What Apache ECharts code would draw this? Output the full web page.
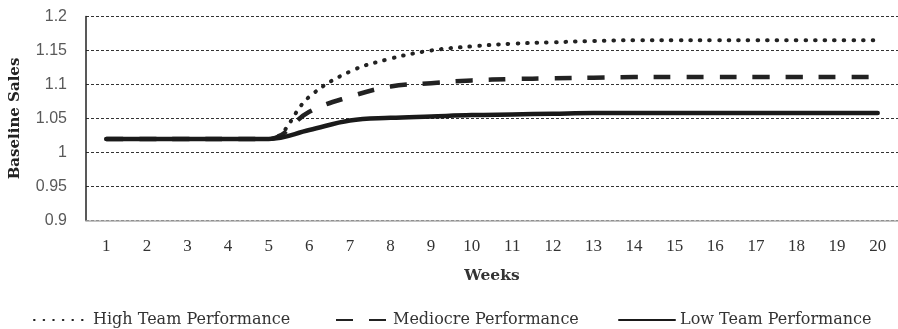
<!DOCTYPE html>
<html>
<head>
<meta charset="utf-8">
<script src="https://cdn.jsdelivr.net/npm/echarts@6/dist/echarts.min.js"></script>
<style>
html,body{margin:0;padding:0;background:#fff;}
#chart{width:898px;height:329px;}
</style>
</head>
<body>
<div id="chart"></div>
<script>
const weeks = ['1','2','3','4','5','6','7','8','9','10','11','12','13','14','15','16','17','18','19','20'];
const highTeam = [1.02,1.02,1.02,1.02,1.02,1.082,1.119,1.138,1.150,1.156,1.160,1.162,1.164,1.165,1.165,1.165,1.165,1.165,1.165,1.165];
const mediocre = [1.02,1.02,1.02,1.02,1.02,1.060,1.082,1.097,1.102,1.106,1.108,1.109,1.110,1.111,1.111,1.111,1.111,1.111,1.111,1.111];
const lowTeam = [1.02,1.02,1.02,1.02,1.02,1.033,1.047,1.051,1.053,1.055,1.056,1.057,1.058,1.058,1.058,1.058,1.058,1.058,1.058,1.058];
const seriesNames = ['High Team Performance','Mediocre Performance','Low Team Performance'];

const serif = '"DejaVu Serif", serif';
const tnr = '"Liberation Serif", serif';
const chart = echarts.init(document.getElementById('chart'), null, {renderer:'canvas'});

function legendFor(name, left, w){
  return {
    data:[name], left:left, top:307, itemWidth:w, itemHeight:14, itemGap:0,
    itemStyle:{opacity:0},
    textStyle:{fontFamily:serif, fontSize:16, color:'#333'},
    selectedMode:false
  };
}

chart.setOption({
  animation:false,
  grid:{left:82, right:0, top:16.5, bottom:108.5},
  legend:[
    legendFor(seriesNames[0], 28, 54),
    legendFor(seriesNames[1], 330, 52),
    legendFor(seriesNames[2], 613, 56)
  ],
  xAxis:{
    type:'category', data:weeks, boundaryGap:true,
    name:'Weeks', nameLocation:'middle', nameGap:47,
    nameTextStyle:{fontFamily:serif, fontSize:15.5, fontWeight:'bold', color:'#333'},
    axisLine:{lineStyle:{color:'#b0b0b0', width:1.5}},
    axisTick:{show:false},
    axisLabel:{fontFamily:tnr, fontSize:17, color:'#333', margin:18}
  },
  yAxis:{
    type:'value', min:0.9, max:1.2, interval:0.05,
    name:'Baseline Sales', nameLocation:'middle', nameGap:63,
    nameTextStyle:{fontFamily:serif, fontSize:15, fontWeight:'bold', color:'#222'},
    axisLine:{show:true, lineStyle:{color:'#222', width:1.5}},
    axisTick:{show:false},
    axisLabel:{fontFamily:'"Liberation Sans", Arial, sans-serif', fontSize:16, color:'#595959', margin:19,
      formatter:v=>String(+v.toFixed(2))},
    splitLine:{show:true, lineStyle:{color:'#333', width:1, type:[3,2]}}
  },
  series:[
    {name:seriesNames[0], type:'line', data:highTeam, showSymbol:false, symbol:'none',
     smooth:0.4,
     lineStyle:{color:'#222', width:4, type:[0.6,9], cap:'round'}, itemStyle:{color:'#222'}},
    {name:seriesNames[1], type:'line', data:mediocre, showSymbol:false, symbol:'none',
     smooth:0.4,
     lineStyle:{color:'#222', width:4.5, type:[17,16], cap:'butt'}, itemStyle:{color:'#222'}},
    {name:seriesNames[2], type:'line', data:lowTeam, showSymbol:false, symbol:'none',
     smooth:0.4,
     lineStyle:{color:'#1a1a1a', width:4.5, cap:'round'}, itemStyle:{color:'#1a1a1a'}}
  ]
});
</script>
</body>
</html>
